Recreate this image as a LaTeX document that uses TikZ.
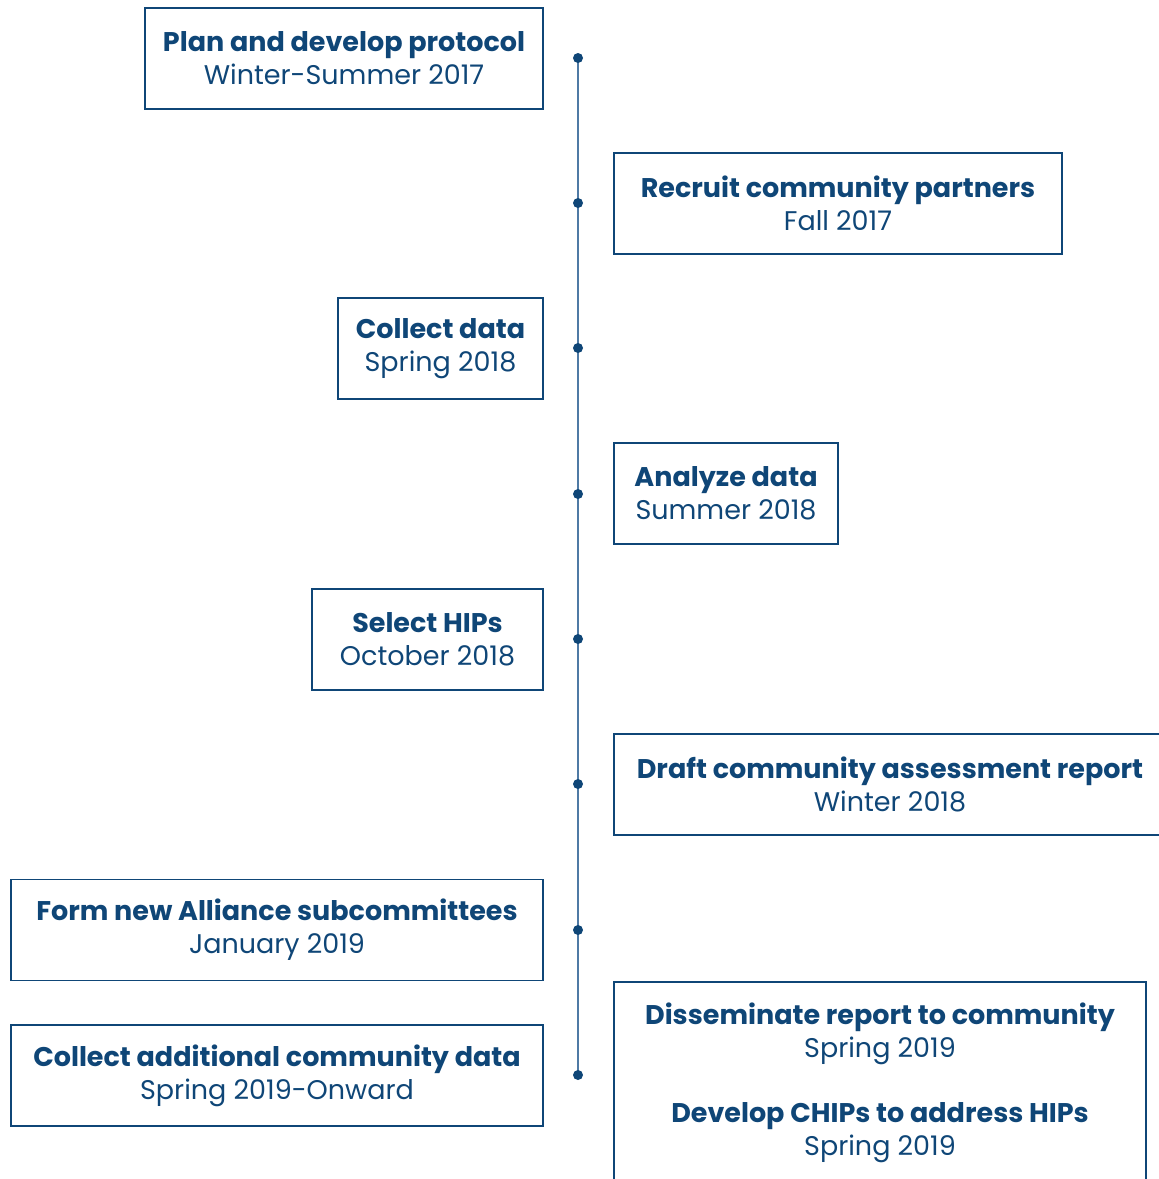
\documentclass[tikz,border=0pt]{standalone}
\usepackage{fontspec}
\setmainfont{Poppins}
\usetikzlibrary{backgrounds}
\definecolor{navy}{HTML}{0F4677}
\definecolor{linecol}{HTML}{4F7AA5}

\begin{document}
\begin{tikzpicture}[x=1pt,y=-1pt]
                \useasboundingbox (0,0) rectangle (1159,1179);
                \begin{scope}[every node/.style={draw=navy, line width=1.3pt, align=center, text=navy, inner sep=0, minimum height=101, font=\fontsize{27}{33}\selectfont}]
                        \node[minimum width=398] (Plan) at (344,58.5) {\textbf{Plan and develop protocol}\\Winter-Summer 2017};
                        \node[minimum width=448] (Recruit) at (838,203.5) {\textbf{Recruit community partners}\\Fall 2017};
                        \node[minimum width=205] (Collect) at (440.5,348.5) {\textbf{Collect data}\\Spring 2018};
                        \node[minimum width=224] (Analyze) at (726,493.5) {\textbf{Analyze data}\\Summer 2018};
                        \node[minimum width=231] (Select) at (427.5,639.5) {\textbf{Select HIPs}\\October 2018};
                        \node[minimum width=552] (Draft) at (890,784.5) {\textbf{Draft community assessment report}\\Winter 2018};
                        \node[minimum width=532] (Form) at (277,930) {\textbf{Form new Alliance subcommittees}\\January 2019};
                        \node[minimum width=532] (More) at (277,1075.5) {\textbf{Collect additional community data}\\Spring 2019-Onward};
                        \node[minimum width=532, minimum height=201] (Share) at (880,1082.5) {\textbf{Disseminate report to community}\\Spring 2019\\[32pt]\textbf{Develop CHIPs to address HIPs}\\Spring 2019};
                \end{scope}
                \begin{scope}[every node/.style={circle, fill=navy, inner sep=0, minimum size=10}]
                        \node (T1) at (578,58) {};
                        \node (T2) at (578,203) {};
                        \node (T3) at (578,348) {};
                        \node (T4) at (578,494) {};
                        \node (T5) at (578,639) {};
                        \node (T6) at (578,784) {};
                        \node (T7) at (578,930) {};
                        \node (T8) at (578,1075) {};
                \end{scope}
                \begin{scope}[on background layer]
                        \draw[linecol, line width=2pt] (T1.center) -- (T8.center);
                \end{scope}
        \end{tikzpicture}
\end{document}
